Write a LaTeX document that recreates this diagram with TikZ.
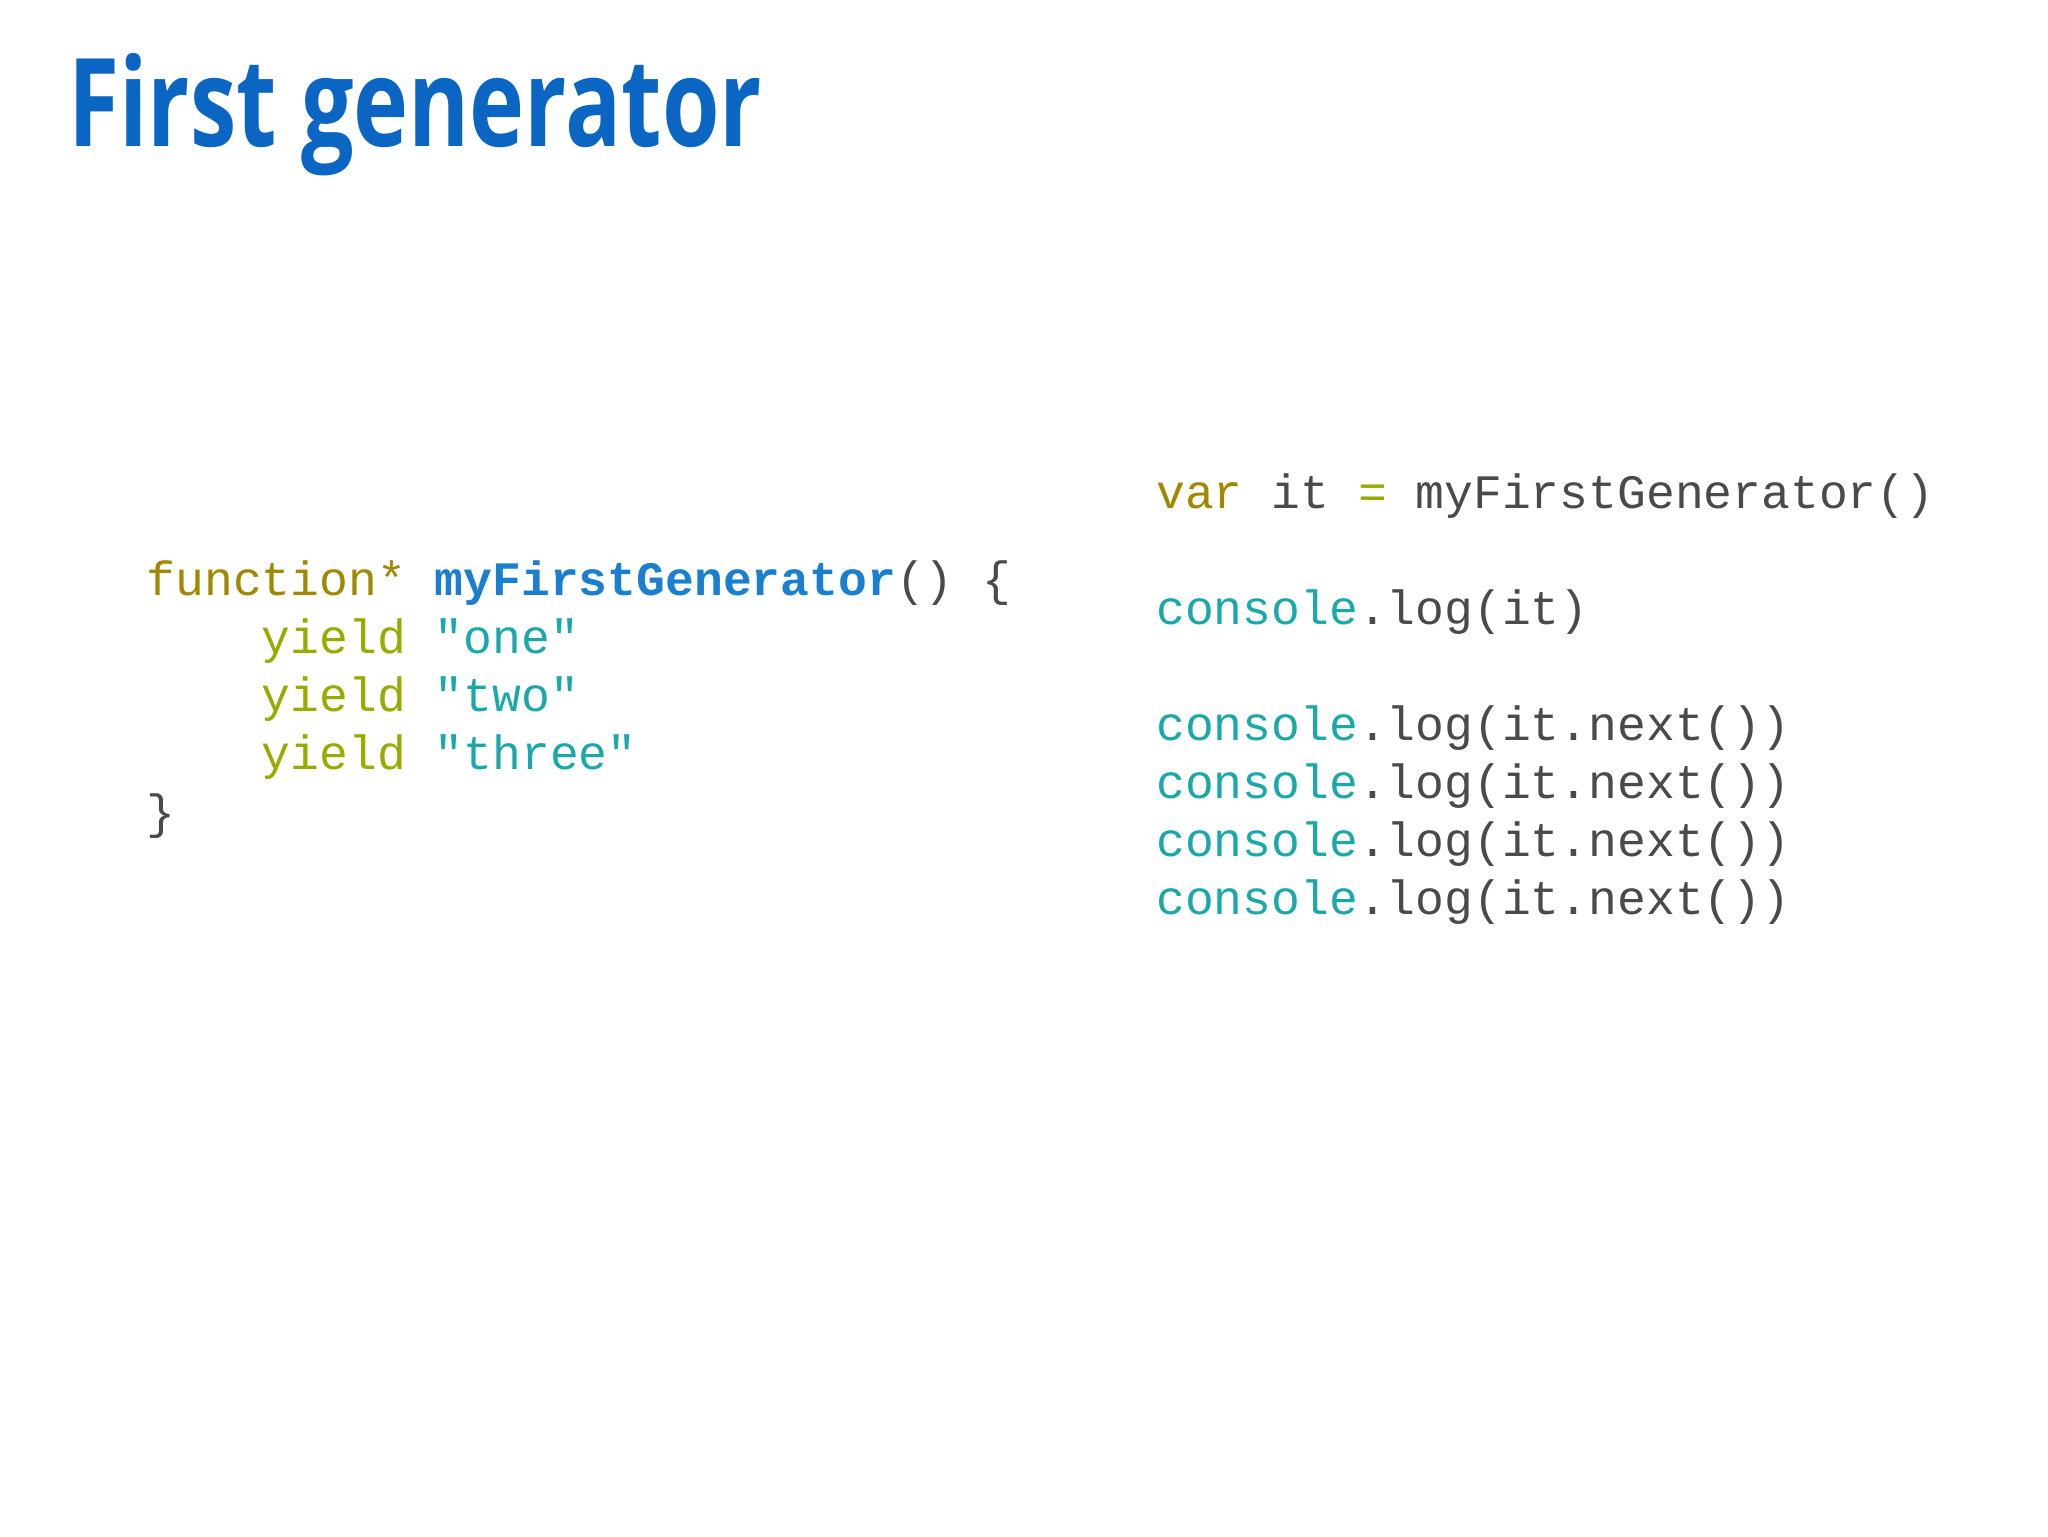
\documentclass[tikz,border=0pt]{standalone}
\usepackage{fontspec}
\setmonofont{Liberation Mono}
\newfontfamily\titlefont[FakeStretch=0.76]{Open Sans}
\definecolor{kw}{HTML}{A08800}
\definecolor{yl}{HTML}{99AA00}
\definecolor{st}{HTML}{1AA8A8}
\definecolor{fn}{HTML}{1A7FCF}
\definecolor{pl}{HTML}{4A4A4A}
\definecolor{ttl}{HTML}{0A66C2}
\tikzset{code/.style={anchor=base west,inner sep=0pt,font=\fontsize{23.9pt}{28pt}\ttfamily,text=pl}}
\begin{document}
\begin{tikzpicture}[x=0.65pt,y=-0.65pt]
\useasboundingbox (0,0) rectangle (1568,1176);
\node[anchor=base west,inner sep=0pt,text=ttl,font=\fontsize{61pt}{70pt}\titlefont\bfseries] (title) at (52,112) {First generator};
\node[code] (l1) at (112,456) {\textcolor{kw}{function*} \textcolor{fn}{\bfseries myFirstGenerator}() \{};
\node[code] (l2) at (112,500) {\phantom{xxxx}\textcolor{yl}{yield} \textcolor{st}{"one"}};
\node[code] (l3) at (112,545) {\phantom{xxxx}\textcolor{yl}{yield} \textcolor{st}{"two"}};
\node[code] (l4) at (112,589) {\phantom{xxxx}\textcolor{yl}{yield} \textcolor{st}{"three"}};
\node[code] (l5) at (112,634) {\}};
\node[code] (r1) at (885,389) {\textcolor{kw}{var} it \textcolor{yl}{=} myFirstGenerator()};
\node[code] (r2) at (885,478) {\textcolor{st}{console}.log(it)};
\node[code] (r3) at (885,567) {\textcolor{st}{console}.log(it.next())};
\node[code] (r4) at (885,611) {\textcolor{st}{console}.log(it.next())};
\node[code] (r5) at (885,656) {\textcolor{st}{console}.log(it.next())};
\node[code] (r6) at (885,700) {\textcolor{st}{console}.log(it.next())};
\end{tikzpicture}
\end{document}
